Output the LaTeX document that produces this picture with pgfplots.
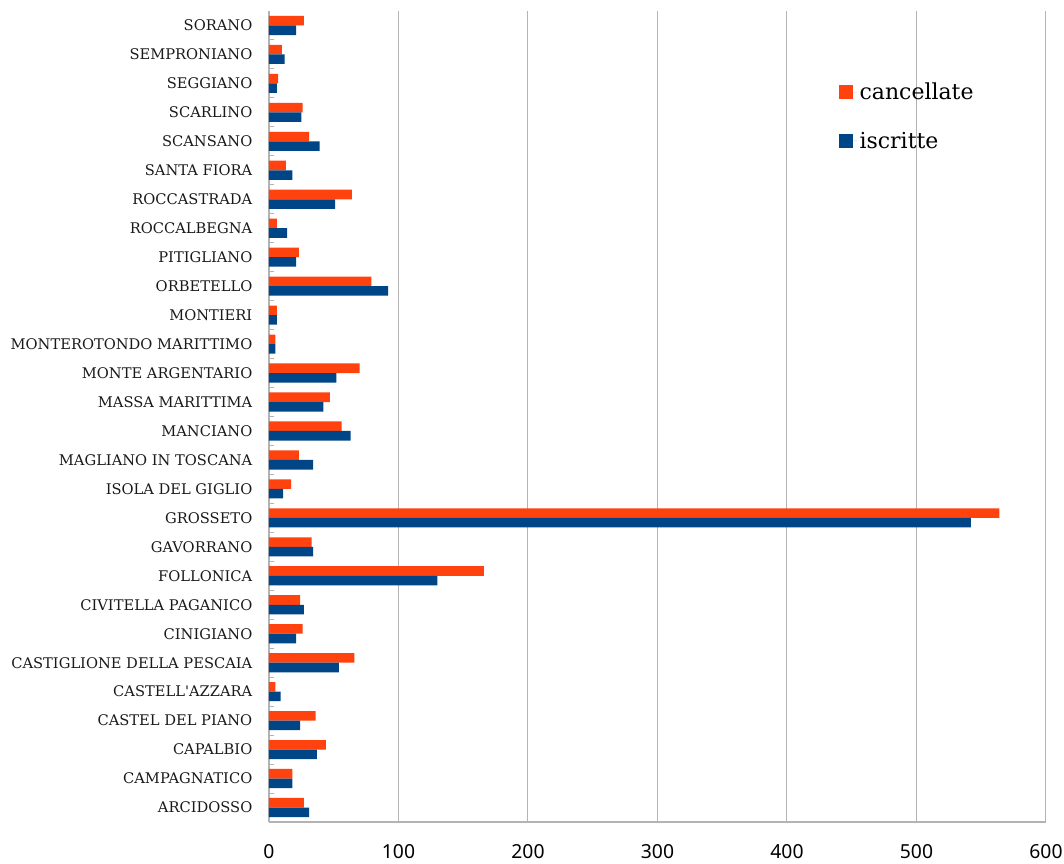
\documentclass[border=0pt]{standalone}
\usepackage{fontspec}
\setmainfont{DejaVu Serif}
\newfontfamily\ticksans{Noto Sans}
\usepackage{pgfplots}
\pgfplotsset{compat=1.18}
\definecolor{canc}{HTML}{FF420E}
\definecolor{iscr}{HTML}{004586}
\definecolor{gridgray}{HTML}{B3B3B3}

% y = posizione del comune (0 = ARCIDOSSO in basso)
\pgfplotstableread{
y  canc iscr
0  27   31
1  18   18
2  44   37
3  36   24
4  5    9
5  66   54
6  26   21
7  24   27
8  166  130
9  33   34
10 564  542
11 17   11
12 23   34
13 56   63
14 47   42
15 70   52
16 5    5
17 6    6
18 79   92
19 23   21
20 6    14
21 64   51
22 13   18
23 31   39
24 26   25
25 7    6
26 10   12
27 27   21
}\dati

\begin{document}
\begin{tikzpicture}
\path[use as bounding box] (-201.75pt,-31.5pt) rectangle (596.25pt,616.5pt);
\begin{axis}[
    at={(0pt,0pt)}, anchor=south west,
    scale only axis,
    width=582.75pt,
    height=608.25pt,
    xbar,
    bar width=0.33,
    xmin=0, xmax=600,
    ymin=-0.5, ymax=27.5,
    xtick={0,100,...,600},
    ytick={0,...,27},
    yticklabels={ARCIDOSSO,CAMPAGNATICO,CAPALBIO,CASTEL DEL PIANO,CASTELL\textquotesingle AZZARA,CASTIGLIONE DELLA PESCAIA,CINIGIANO,CIVITELLA PAGANICO,FOLLONICA,GAVORRANO,GROSSETO,ISOLA DEL GIGLIO,MAGLIANO IN TOSCANA,MANCIANO,MASSA MARITTIMA,MONTE ARGENTARIO,MONTEROTONDO MARITTIMO,MONTIERI,ORBETELLO,PITIGLIANO,ROCCALBEGNA,ROCCASTRADA,SANTA FIORA,SCANSANO,SCARLINO,SEGGIANO,SEMPRONIANO,SORANO},
    minor y tick num=1,
    major tick length=0pt,
    minor tick length=4pt,
    tick align=inside,
    tick pos=left,
    minor tick style={gridgray, line width=0.75pt},
    axis lines*=left,
    axis line style={gridgray, line width=1pt},
    xmajorgrids=true,
    grid style={gridgray, line width=0.75pt},
    /pgf/number format/assume math mode=true,
    xticklabel style={font=\ticksans\fontsize{14.5}{16}\selectfont, yshift=-13.5pt},
    yticklabel style={font=\fontsize{11}{13}\selectfont, xshift=-9pt, text=black!90},
    legend style={at={(rel axis cs:0.728,0.918)}, anchor=north west, draw=none, fill=none,
        font=\fontsize{16.5}{19}\selectfont, row sep=18.5pt},
    legend cell align=left,
    legend image code/.code={\fill[#1] (0pt,-5.25pt) rectangle (10.5pt,5.25pt);
        \path (0pt,0pt) -- (13.5pt,0pt);},
]
\addplot[fill=canc, draw=none, bar shift=0.165] table[x=canc, y=y] {\dati};
\addlegendentry{cancellate}
\addplot[fill=iscr, draw=none, bar shift=-0.165] table[x=iscr, y=y] {\dati};
\addlegendentry{iscritte}
\end{axis}
\end{tikzpicture}
\end{document}
